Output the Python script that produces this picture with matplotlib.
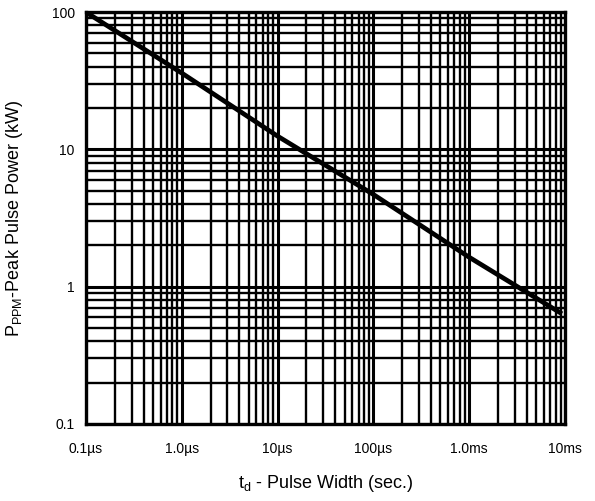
import numpy as np
import matplotlib.pyplot as plt
from matplotlib.ticker import LogLocator, NullFormatter

plt.rcParams['font.family'] = ['Liberation Sans', 'DejaVu Sans']
plt.rcParams['mathtext.fontset'] = 'custom'
plt.rcParams['mathtext.rm'] = 'Liberation Sans'
plt.rcParams['mathtext.it'] = 'Liberation Sans'

# pulse width (s) vs peak pulse power (kW)
pulse_width = [1e-7, 1e-6, 1e-5, 1e-4, 1e-3, 9.3e-3]
peak_power = [100, 36, 12.5, 4.7, 1.64, 0.635]

x_ticks = [1e-7, 1e-6, 1e-5, 1e-4, 1e-3, 1e-2]
x_labels = ["0.1µs", "1.0µs", "10µs", "100µs", "1.0ms", "10ms"]
y_ticks = [0.1, 1, 10, 100]
y_labels = ["0.1", "1", "10", "100"]

fig = plt.figure(figsize=(5.95, 5.01), dpi=100)
ax = fig.add_axes([0.1445, 0.1537, 0.805, 0.822])

ax.set_xscale("log")
ax.set_yscale("log")
ax.set_xlim(1e-7, 1e-2)
ax.set_ylim(0.1, 100)

ax.xaxis.set_minor_locator(LogLocator(base=10, subs=np.arange(2, 10)))
ax.yaxis.set_minor_locator(LogLocator(base=10, subs=np.arange(2, 10)))
ax.xaxis.set_minor_formatter(NullFormatter())
ax.yaxis.set_minor_formatter(NullFormatter())

ax.grid(which="major", color="black", linewidth=2.2)
ax.grid(which="minor", color="black", linewidth=1.7)
ax.set_axisbelow(True)

ax.plot(pulse_width, peak_power, color="black", linewidth=3.4, solid_capstyle="butt")

ax.set_xticks(x_ticks)
ax.set_xticklabels(x_labels)
ax.set_yticks(y_ticks)
ax.set_yticklabels(y_labels)
ax.tick_params(which="both", length=0)
ax.tick_params(axis="x", pad=13, labelsize=10)
ax.tick_params(axis="y", pad=8, labelsize=10)

for s in ax.spines.values():
    s.set_linewidth(2.4)

ax.set_xlabel(r"t$_{\mathrm{d}}$ - Pulse Width (sec.)", fontsize=13, labelpad=12)
ax.set_ylabel(r"P$_{\mathrm{PPM}}$-Peak Pulse Power (kW)", fontsize=13, labelpad=19)

fig.savefig("out.png", dpi=100)
